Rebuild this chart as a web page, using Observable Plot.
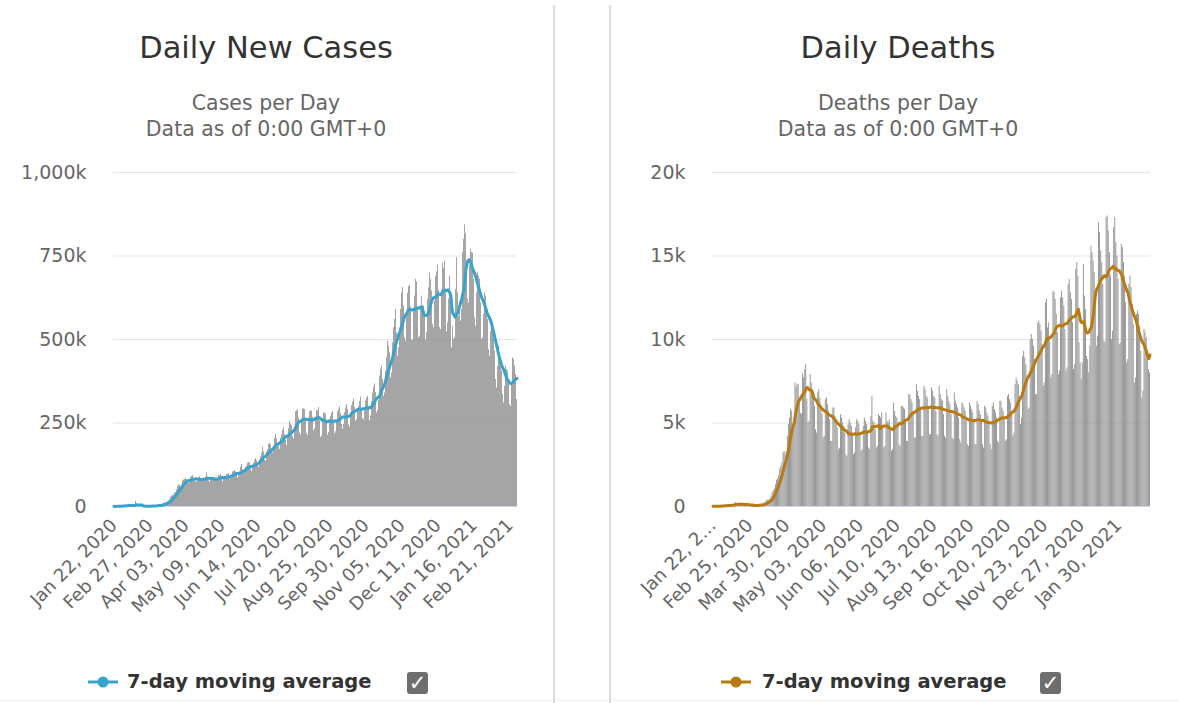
<!DOCTYPE html>
<html><head><meta charset="utf-8">
<script src="https://cdn.jsdelivr.net/npm/d3@7"></script>
<script src="https://cdn.jsdelivr.net/npm/@observablehq/plot@0.6"></script>
<style>
html,body{margin:0;padding:0;background:#fff;}
body{width:1179px;height:703px;position:relative;overflow:hidden;font-family:"DejaVu Sans",Verdana,sans-serif;}
.abs{position:absolute;}
.title{position:absolute;font-size:30.5px;color:#333;text-align:center;width:400px;line-height:34px;white-space:nowrap;}
.sub{position:absolute;font-size:20.5px;color:#666;text-align:center;width:400px;line-height:26px;white-space:nowrap;}
.divider{position:absolute;top:5px;height:698px;width:2px;background:#dadada;}
.legtext{position:absolute;font-size:19.5px;font-weight:bold;color:#333;line-height:24px;white-space:nowrap;}
.chk{position:absolute;width:21px;height:22px;background:#6e6e6e;border-radius:3px;color:#fff;font-size:21px;font-weight:bold;text-align:center;line-height:23px;}
</style></head>
<body>
<div class="divider" style="left:553px"></div>
<div class="divider" style="left:609px"></div>
<div class="abs" style="left:0;top:700px;width:1179px;height:1px;background:#eee"></div>

<div class="title" style="left:66px;top:31px">Daily New Cases</div>
<div class="sub" style="left:66px;top:90px">Cases per Day<br>Data as of 0:00 GMT+0</div>
<div class="title" style="left:698px;top:31px">Daily Deaths</div>
<div class="sub" style="left:698px;top:90px">Deaths per Day<br>Data as of 0:00 GMT+0</div>

<div id="left" class="abs" style="left:0;top:150px"></div>
<div id="right" class="abs" style="left:610px;top:150px"></div>

<svg class="abs" style="left:86px;top:670px" width="34" height="24"><line x1="2" y1="12" x2="32" y2="12" stroke="#3aa3cc" stroke-width="3"/><circle cx="17" cy="12" r="5.5" fill="#3aa3cc"/></svg>
<div class="legtext" style="left:127px;top:670px">7-day moving average</div>
<div class="chk" style="left:407px;top:672px">✓</div>

<svg class="abs" style="left:719px;top:670px" width="34" height="24"><line x1="2" y1="12" x2="32" y2="12" stroke="#b97a12" stroke-width="3"/><circle cx="17" cy="12" r="5.5" fill="#b97a12"/></svg>
<div class="legtext" style="left:762px;top:670px">7-day moving average</div>
<div class="chk" style="left:1040px;top:672px">✓</div>

<script>
// First day of both series (one value per day, consecutive days)
const startDate = "2020-01-22";

// Daily new cases, thousands (rows = weeks Wed..Tue)
const dailyCasesK = [
0.6,0.1,0.3,0.5,0.7,0.8,1.7,
1.5,1.7,2.0,2.1,2.6,2.8,3.2,
3.9,3.7,3.2,3.4,2.6,2.8,2.1,
2.0,15.1,6.5,2.6,2.1,2.0,1.9,
0.6,0.5,1.0,0.6,0.9,0.7,0.9,
1.1,1.3,1.4,1.8,2.0,1.8,2.3,
2.3,2.8,3.9,3.9,4.0,3.9,4.5,
7.3,7.5,11.0,10.9,12.2,14.9,16.6,
19.5,27.7,32.4,31.7,33.6,40.8,41.7,
49.3,60.5,63.7,63.4,58.4,64.2,76.6,
79.4,81.1,85.1,80.5,75.3,69.0,78.5,
85.5,89.7,92.9,82.7,77.1,74.8,72.6,
83.0,86.8,89.0,81.2,77.3,75.2,77.7,
84.5,88.4,100.4,88.0,77.1,73.0,80.1,
80.7,87.1,86.5,86.6,77.4,79.1,80.2,
92.8,91.9,96.6,88.7,73.4,80.6,84.7,
89.9,96.6,95.1,98.3,80.8,86.9,94.8,
103.3,105.1,107.7,101.9,95.6,84.9,91.0,
104.9,117.5,125.6,110.9,104.4,99.8,115.6,
121.1,129.9,131.8,129.9,111.6,104.6,117.8,
129.1,138.9,143.1,137.3,128.9,117.3,139.2,
148.1,159.4,177.8,164.2,138.2,136.3,162.5,
169.4,185.8,189.9,184.0,160.7,160.4,175.7,
204.6,215.7,201.8,184.5,180.4,170.5,204.4,
213.7,228.6,235.4,214.7,197.4,181.8,208.2,
233.1,253.2,246.9,241.8,210.3,202.0,235.5,
283.7,285.9,290.0,264.7,219.8,213.5,256.7,
290.5,292.5,290.6,262.6,218.9,213.0,259.8,
283.3,286.3,285.7,266.9,226.5,232.9,267.0,
286.9,286.7,296.3,255.9,206.9,211.1,263.1,
280.4,279.1,276.2,259.4,213.4,221.2,260.9,
270,280,285,258,218,224,255,
283.0,290.1,298.4,278.0,245.5,230.9,245.7,
280,295,305,290,245,238,280,
301.5,312.5,321.8,296.8,255.7,260.1,289.6,
299.1,314.9,327.5,293.4,263.4,259.2,285.8,
315.6,324.2,329.4,296.6,256.6,271.2,314.8,
338.7,357.3,367.3,341.5,280.2,288.3,317.8,
390,410,420,380,330,340,405,
445,495,480,460,385,400,490,
535,560,590,520,450,475,535,
590,640,655,600,505,495,570,
637.8,658.7,661.4,597.3,499.0,497.0,585.3,
630,680,672,590,505,510,595,
630,585,600,585,498,520,620,
655,700,680,645,545,535,615,
688.3,702.1,722.3,646.6,535.5,529.4,647.2,
729.6,712.4,735.7,644.0,521.8,549.8,620.9,
690,640,475,540,500,505,650,
745,640,570,615,555,590,760,
800,843,816.5,724.5,620,609.3,722.6,
770,760,758,680,565,540,640,
700,690,680,610,500,505,575,
640,630,600,560,470,450,525,
560,540,520,465,380,355,420,
480,460,440,405,335,310,360,
420,410,405,375,305,300,365,
445,440,420,395,320
];

// Daily deaths (rows = weeks Wed..Tue)
const dailyDeaths = [
17,8,16,14,24,26,26,
38,43,46,45,57,64,66,
73,73,86,89,97,108,97,
254,121,143,142,106,98,139,
115,125,4,207,109,74,70,
57,42,63,60,72,69,85,
89,105,105,104,100,200,206,
271,345,395,394,452,613,837,
950,1050,1300,1550,1650,1850,2250,
2400,2600,3200,3300,3100,3300,4200,
4900,5300,5800,5700,4700,4700,7400,
7129,7326,7282,6231,5582,5526,7958,
7700,8200,8500,6400,5000,5100,7900,
7400,7000,6600,6000,4600,4400,6800,
7000,6500,6000,5500,4100,4200,6400,
6500,6100,5700,5200,3900,3900,5900,
5900,5400,5200,4700,3400,3500,5500,
5300,5000,4800,4400,3100,3000,4900,
5200,5000,4800,4300,3100,3200,4700,
5200,5100,4900,4400,3300,3400,4800,
5300,5100,4900,4500,3500,3400,5400,
6600,5100,5000,4600,3500,3600,5500,
5400,5300,5600,4800,3500,3600,5600,
5100,5000,5200,4600,3300,3400,6200,
5700,5400,5300,5000,3700,3600,6000,
6000,5900,5800,5200,3900,3900,6700,
6700,6400,6200,5600,4100,4100,7300,
6900,6600,6400,5800,4200,4200,7200,
7000,6600,6500,5800,4300,4300,7100,
6900,6600,6500,5700,4300,4200,7200,
6700,6400,6300,5500,4200,4100,7000,
6600,6300,6100,5500,4100,4000,6800,
6300,6100,5900,5300,4000,3800,6200,
6100,5900,5700,5100,3700,3600,6200,
6000,5800,5600,5200,3700,3700,6300,
6100,5700,5500,5100,3700,3500,6000,
5900,5600,5400,5000,3700,3400,6000,
6200,5800,5600,5300,3900,3800,6300,
6300,5900,5700,5300,3900,4000,6600,
6700,6400,6200,5700,4200,4400,7300,
7700,7500,7300,6600,4900,5300,9000,
9300,8900,8500,7800,5800,5900,10000,
10300,10000,9600,8800,6700,6700,11000,
11100,10900,10500,9700,7200,7400,12200,
12400,10700,11000,9900,7700,7900,12900,
12800,12400,11500,10400,7900,8100,12500,
12900,12500,12000,10600,8100,8300,13300,
13600,12800,12400,11000,8200,8500,14200,
14600,13800,9800,8600,7600,8600,14500,
12600,11800,9000,8800,8000,9600,15600,
15200,14700,14000,12500,9600,10200,17000,
16400,15300,14600,13300,9900,9800,17300,
17400,16500,15200,13800,10000,10500,16700,
17300,15800,15000,13600,9700,9800,15700,
15500,14600,13800,12200,8600,8800,13300,
13800,13100,12100,10900,7400,7700,11500,
11700,11500,10800,9300,6500,6900,10600,
10400,10100,9300,8200,8000
];

// Axis tick labels
const casesTickLabels = ["Jan 22, 2020","Feb 27, 2020","Apr 03, 2020","May 09, 2020","Jun 14, 2020","Jul 20, 2020","Aug 25, 2020","Sep 30, 2020","Nov 05, 2020","Dec 11, 2020","Jan 16, 2021","Feb 21, 2021"];
const deathsTickLabels = ["Jan 22, 2020","Feb 25, 2020","Mar 30, 2020","May 03, 2020","Jun 06, 2020","Jul 10, 2020","Aug 13, 2020","Sep 16, 2020","Oct 20, 2020","Nov 23, 2020","Dec 27, 2020","Jan 30, 2021"];
const casesYTicks = [0, 250, 500, 750, 1000];       // thousands
const deathsYTicks = [0, 5000, 10000, 15000, 20000];

const DAY = 864e5;
const t0 = Date.parse(startDate + "T00:00:00Z");
const parseLabel = d3.utcParse("%b %d, %Y");

function rows(vals) {
  return vals.map((v, i) => ({
    start: new Date(t0 + i * DAY),
    end: new Date(t0 + (i + 1) * DAY),
    mid: new Date(t0 + (i + 0.5) * DAY),
    v
  }));
}

function chart({vals, color, yTicks, yFmt, tickLabels, shownLabel, width, ml, mr}) {
  const data = rows(vals);
  const ticks = tickLabels.map((t, i) => ({
    date: new Date(+parseLabel(t) + DAY / 2),
    label: shownLabel(t, i)
  }));
  return Plot.plot({
    width, height: 480,
    marginLeft: ml, marginRight: mr, marginTop: 22, marginBottom: 124,
    x: {type: "utc", domain: [new Date(t0), new Date(t0 + vals.length * DAY)], axis: null},
    y: {domain: [yTicks[0], yTicks[yTicks.length - 1]], axis: null},
    style: {fontFamily: "'DejaVu Sans', Verdana, sans-serif", background: "transparent", overflow: "visible"},
    marks: [
      Plot.gridY(yTicks.slice(1), {stroke: "#e6e6e6", strokeOpacity: 1, strokeWidth: 1}),
      Plot.axisY(yTicks, {tickSize: 0, tickPadding: 27, tickFormat: yFmt, fontSize: 19, fill: "#666", label: null}),
      Plot.rectY(data, {x1: "start", x2: "end", y: "v", fill: "#8e8e8e", insetLeft: 0.1, insetRight: 0.1}),
      Plot.ruleY([0], {stroke: "#ccd6eb", strokeWidth: 1}),
      Plot.lineY(data, Plot.windowY({k: 7, anchor: "end", reduce: "mean"}, {x: "mid", y: "v", stroke: color, strokeWidth: 3, curve: "linear"})),
      Plot.text(ticks, {x: "date", frameAnchor: "bottom", text: "label", rotate: -45, textAnchor: "end", dx: 4, dy: 20, fontSize: 18, fill: "#666"})
    ]
  });
}

document.getElementById("left").append(chart({
  vals: dailyCasesK, color: "#3aa3cc", yTicks: casesYTicks,
  yFmt: d => d === 0 ? "0" : d3.format(",")(d) + "k",
  tickLabels: casesTickLabels, shownLabel: t => t,
  width: 553, ml: 113, mr: 36
}));

document.getElementById("right").append(chart({
  vals: dailyDeaths, color: "#b97a12", yTicks: deathsYTicks,
  yFmt: d => d === 0 ? "0" : (d / 1000) + "k",
  tickLabels: deathsTickLabels, shownLabel: (t, i) => i === 0 ? t.slice(0, 9) + "…" : t,
  width: 569, ml: 102, mr: 29
}));
</script>
</body></html>
